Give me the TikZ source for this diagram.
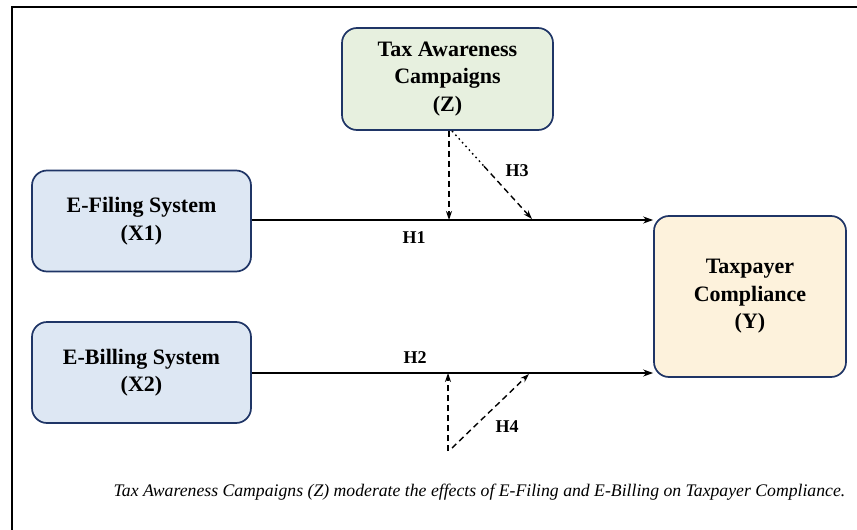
\documentclass[tikz,border=0pt]{standalone}
\usepackage{fontspec}
\setmainfont{Liberation Serif}
\usetikzlibrary{arrows.meta,calc}
\definecolor{bordc}{HTML}{1F3566}
\definecolor{greenf}{HTML}{E7F0DF}
\definecolor{bluef}{HTML}{DDE7F3}
\definecolor{yellowf}{HTML}{FDF2DC}
\tikzset{
  box/.style={draw=bordc, line width=1.7pt, rounded corners=15pt, align=center,
    font=\bfseries\fontsize{22}{27.5}\selectfont, inner sep=0pt},
  solidarr/.style={line width=2pt, -{Stealth[length=10pt,width=7pt]}},
  dasharr/.style={line width=1.4pt, dash pattern=on 6pt off 4pt, -{Stealth[length=9pt,width=6pt]}},
  dotline/.style={line width=1.4pt, dash pattern=on 1.6pt off 3.4pt},
  hlabel/.style={font=\bfseries\fontsize{18}{20}\selectfont, inner sep=0pt},
  framel/.style={line width=2pt}
}
\begin{document}
\begin{tikzpicture}[x=1pt,y=-1pt]
\useasboundingbox (0,0) rectangle (857,530);
\fill[white] (0,0) rectangle (857,530);
\draw[framel] (12,531) -- (12,7) -- (858,7);

\node[box, fill=greenf, minimum width=211, minimum height=102] (Z) at (447.5,79) {Tax Awareness\\Campaigns\\(Z)};
\node[box, fill=bluef, minimum width=219, minimum height=101] (X1) at (141.5,221) {E-Filing System\\(X1)};
\node[box, fill=bluef, minimum width=219, minimum height=101] (X2) at (141.5,372.5) {E-Billing System\\(X2)};
\node[box, fill=yellowf, minimum width=192, minimum height=161] (Y) at (750,296.5) {Taxpayer\\Compliance\\(Y)};

\coordinate (l1) at (250,220);
\coordinate (l2) at (250,373);
\draw[solidarr] (X1.east |- l1) -- (Y.west |- l1);
\draw[solidarr] (X2.east |- l2) -- (Y.west |- l2);

\coordinate (m1) at (449,220);
\coordinate (m3) at (532,219);
\coordinate (z3) at (452,131);
\coordinate (d3) at ($(z3)!0.4!(m3)$);
\draw[dasharr] (Z.south -| m1) -- (m1);
\draw[dotline] (z3) -- (d3);
\draw[dasharr] (d3) -- (m3);

\coordinate (lo1) at (448,451);
\coordinate (m2) at (448,373);
\coordinate (lo2) at (452,448);
\coordinate (m4) at (529,374);
\draw[dasharr] (lo1) -- (m2);
\draw[dasharr] (lo2) -- (m4);

\node[hlabel] (h1) at (414,238) {H1};
\node[hlabel] (h2) at (415,358) {H2};
\node[hlabel] (h3) at (517,171) {H3};
\node[hlabel] (h4) at (507,427) {H4};

\node[font=\itshape\fontsize{17.7}{20}\selectfont, inner sep=0pt] (cap) at (479.5,492) {Tax Awareness Campaigns (Z) moderate the effects of E-Filing and E-Billing on Taxpayer Compliance.};
\end{tikzpicture}
\end{document}
